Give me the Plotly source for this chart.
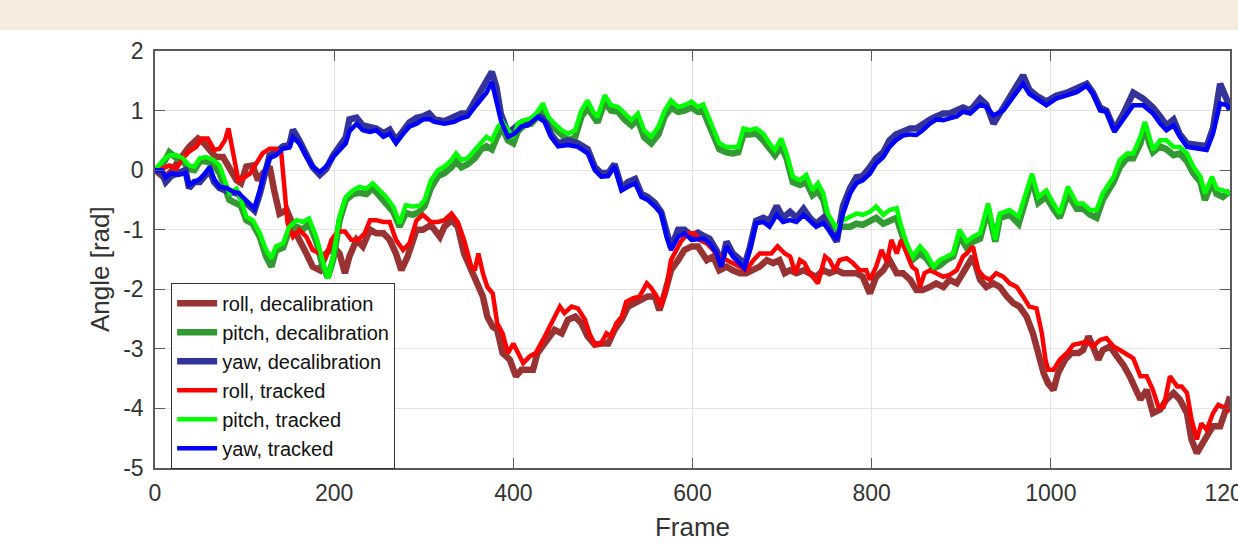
import plotly.graph_objects as go

# ---------------- data ----------------
roll_trk_f = [0, 9, 16, 24, 31, 38, 46, 52, 59, 66, 72, 78, 82, 87, 93, 98, 106, 113, 120, 128, 135, 141, 145, 148, 154, 161, 169, 176, 184, 191, 197, 204, 212, 219, 227, 234, 240, 247, 255, 262, 269, 277, 284, 292, 299, 308, 316, 323, 331, 338, 345, 353, 357, 361, 366, 371, 377, 382, 388, 394, 400, 405, 411, 418, 425, 433, 440, 446, 452, 457, 465, 472, 480, 485, 491, 498, 504, 509, 515, 521, 526, 534, 541, 549, 554, 560, 565, 571, 576, 582, 587, 595, 602, 608, 616, 623, 630, 638, 645, 653, 660, 668, 675, 683, 688, 695, 703, 709, 715, 720, 725, 731, 740, 748, 753, 759, 764, 772, 779, 787, 794, 798, 805, 811, 817, 822, 828, 833, 839, 845, 850, 854, 859, 865, 872, 880, 887, 895, 902, 906, 913, 919, 925, 932, 939, 947, 954, 962, 969, 976, 984, 990, 994, 997, 1003, 1010, 1018, 1025, 1032, 1040, 1047, 1055, 1062, 1070, 1077, 1085, 1092, 1100, 1107, 1114, 1120, 1126, 1133, 1141, 1146, 1152, 1157, 1163, 1168, 1174, 1181, 1187, 1192, 1200]
roll_trk_v = [0, 0.03, 0.08, 0.03, 0.2, 0.31, 0.39, 0.53, 0.53, 0.34, 0.36, 0.5, 0.7, 0.28, -0.17, -0.14, -0.06, 0.11, 0.28, 0.36, 0.36, 0.28, -0.34, -0.89, -1.12, -1.0, -1.12, -1.34, -1.4, -1.45, -1.17, -1.03, -1.03, -1.17, -1.17, -1.06, -0.84, -0.84, -0.87, -0.87, -1.17, -1.34, -1.23, -0.84, -0.75, -0.87, -0.87, -0.84, -0.73, -0.87, -1.17, -1.62, -1.68, -1.4, -1.73, -1.96, -2.07, -2.57, -2.74, -3.07, -2.91, -3.07, -3.24, -3.13, -3.07, -2.85, -2.63, -2.46, -2.29, -2.4, -2.29, -2.32, -2.51, -2.74, -2.93, -2.91, -2.74, -2.79, -2.57, -2.46, -2.21, -2.15, -2.12, -1.9, -1.98, -2.12, -2.29, -1.96, -1.51, -1.34, -1.2, -1.06, -1.06, -1.17, -1.23, -1.34, -1.45, -1.51, -1.56, -1.62, -1.68, -1.51, -1.4, -1.4, -1.4, -1.28, -1.4, -1.45, -1.73, -1.51, -1.56, -1.73, -1.9, -1.45, -1.51, -1.68, -1.51, -1.48, -1.56, -1.68, -1.68, -1.84, -1.62, -1.34, -1.54, -1.17, -1.4, -1.17, -1.4, -1.62, -1.68, -1.96, -1.73, -1.68, -1.73, -1.79, -1.76, -1.68, -1.45, -1.4, -1.28, -1.68, -1.79, -1.84, -1.73, -1.79, -1.9, -1.96, -2.12, -2.29, -2.32, -2.74, -3.18, -3.35, -3.35, -3.18, -3.07, -2.93, -2.91, -2.88, -2.96, -2.85, -2.82, -2.96, -3.02, -3.1, -3.16, -3.46, -3.46, -3.69, -3.97, -3.97, -3.46, -3.63, -3.63, -3.74, -4.18, -4.52, -4.25, -4.36, -4.08, -3.94, -3.97, -4.05]

roll_dec_f = [0, 9, 16, 24, 31, 38, 48, 55, 61, 68, 76, 83, 91, 96, 102, 109, 115, 120, 128, 133, 139, 147, 154, 161, 169, 176, 184, 191, 199, 206, 212, 217, 225, 232, 240, 247, 255, 262, 269, 275, 282, 292, 299, 308, 318, 323, 331, 338, 345, 353, 360, 366, 371, 377, 382, 388, 396, 403, 409, 416, 422, 427, 433, 440, 446, 454, 461, 469, 476, 483, 491, 498, 506, 513, 521, 528, 536, 543, 550, 558, 563, 569, 576, 584, 591, 599, 606, 616, 623, 630, 638, 645, 653, 660, 668, 675, 683, 690, 697, 703, 709, 716, 724, 731, 738, 746, 753, 761, 768, 776, 783, 790, 798, 805, 813, 820, 828, 835, 843, 850, 857, 865, 872, 880, 887, 895, 902, 908, 913, 921, 928, 936, 943, 951, 958, 965, 973, 980, 986, 992, 997, 1003, 1008, 1016, 1023, 1031, 1036, 1042, 1047, 1053, 1058, 1066, 1074, 1081, 1088, 1094, 1100, 1107, 1114, 1122, 1129, 1137, 1144, 1152, 1157, 1163, 1168, 1174, 1181, 1189, 1194, 1200]
roll_dec_v = [0, -0.11, -0.06, 0.11, 0.25, 0.39, 0.53, 0.45, 0.34, 0.22, 0.22, 0.06, -0.17, -0.22, 0.06, 0.08, -0.17, -0.06, 0.06, -0.34, -0.73, -0.67, -0.95, -1.17, -1.4, -1.62, -1.68, -1.4, -1.28, -1.4, -1.73, -1.45, -1.17, -1.28, -1.0, -1.06, -1.06, -1.17, -1.4, -1.68, -1.45, -1.0, -1.0, -0.92, -1.12, -0.95, -0.84, -0.95, -1.4, -1.68, -1.96, -2.12, -2.46, -2.63, -2.68, -3.07, -3.18, -3.46, -3.35, -3.35, -3.35, -3.07, -2.96, -2.79, -2.68, -2.74, -2.51, -2.46, -2.57, -2.79, -2.93, -2.91, -2.91, -2.68, -2.51, -2.29, -2.23, -2.18, -2.12, -2.12, -2.35, -2.07, -1.68, -1.51, -1.34, -1.28, -1.28, -1.51, -1.45, -1.68, -1.62, -1.68, -1.73, -1.73, -1.68, -1.62, -1.51, -1.56, -1.51, -1.73, -1.68, -1.73, -1.68, -1.73, -1.79, -1.68, -1.73, -1.68, -1.73, -1.73, -1.73, -1.79, -2.07, -1.79, -1.68, -1.51, -1.73, -1.73, -1.84, -2.01, -2.01, -1.96, -1.9, -1.96, -1.84, -1.9, -1.73, -1.62, -1.45, -1.84, -1.96, -1.9, -1.96, -2.12, -2.23, -2.29, -2.46, -2.74, -3.13, -3.41, -3.58, -3.69, -3.41, -3.18, -3.07, -3.07, -3.02, -2.79, -2.96, -3.18, -3.02, -2.96, -3.13, -3.27, -3.46, -3.69, -3.85, -3.69, -4.08, -4.02, -3.85, -3.74, -3.85, -4.08, -4.52, -4.75, -4.64, -4.47, -4.3, -4.3, -4.08, -3.8]

pitch_f = [0, 9, 16, 24, 31, 38, 44, 50, 57, 65, 72, 78, 83, 91, 96, 102, 109, 117, 124, 130, 135, 143, 150, 158, 165, 172, 180, 187, 193, 199, 206, 213, 221, 228, 236, 243, 251, 258, 266, 273, 280, 288, 295, 301, 308, 316, 323, 331, 336, 342, 349, 357, 364, 370, 376, 383, 388, 394, 400, 405, 412, 420, 427, 433, 439, 446, 454, 461, 469, 476, 483, 489, 494, 502, 509, 517, 524, 532, 539, 546, 554, 562, 569, 576, 584, 591, 599, 606, 612, 616, 623, 630, 638, 645, 651, 657, 664, 671, 679, 686, 692, 699, 705, 712, 720, 727, 734, 740, 746, 751, 757, 761, 768, 776, 783, 790, 798, 805, 813, 820, 828, 831, 839, 846, 854, 861, 869, 876, 884, 891, 898, 906, 913, 921, 930, 938, 943, 954, 964, 971, 979, 986, 995, 1003, 1010, 1019, 1029, 1036, 1044, 1051, 1058, 1070, 1077, 1085, 1092, 1100, 1105, 1110, 1114, 1122, 1129, 1137, 1144, 1152, 1159, 1167, 1172, 1180, 1185, 1192, 1200]
pitch_trk_v = [0, 0.17, 0.25, 0.25, 0.2, 0.08, 0.06, 0.2, 0.22, 0.17, 0.08, -0.17, -0.39, -0.31, -0.5, -0.78, -0.84, -1.06, -1.34, -1.48, -1.28, -1.23, -0.95, -0.84, -0.87, -0.81, -1.12, -1.51, -1.82, -1.45, -0.78, -0.45, -0.34, -0.28, -0.31, -0.22, -0.34, -0.45, -0.61, -0.89, -0.59, -0.61, -0.6, -0.5, -0.17, 0.0, 0.06, 0.17, 0.28, 0.17, 0.2, 0.34, 0.45, 0.56, 0.5, 0.73, 0.81, 0.67, 0.55, 0.78, 0.84, 0.87, 0.98, 1.12, 0.89, 0.78, 0.67, 0.61, 0.67, 1.0, 1.17, 0.98, 0.89, 1.26, 1.09, 1.06, 0.95, 0.84, 0.95, 0.67, 0.56, 0.73, 1.0, 1.17, 1.06, 1.09, 1.15, 1.06, 1.1, 0.95, 0.67, 0.45, 0.39, 0.39, 0.39, 0.7, 0.67, 0.7, 0.61, 0.45, 0.34, 0.53, 0.28, -0.11, -0.17, -0.08, -0.34, -0.22, -0.39, -0.73, -0.89, -0.98, -0.84, -0.78, -0.73, -0.75, -0.7, -0.61, -0.75, -0.67, -0.64, -0.84, -1.23, -1.45, -1.28, -1.4, -1.62, -1.51, -1.45, -1.4, -1.0, -1.2, -1.12, -1.06, -0.56, -1.17, -0.73, -0.67, -0.78, -0.45, -0.06, -0.45, -0.34, -0.56, -0.73, -0.28, -0.56, -0.56, -0.67, -0.67, -0.39, -0.11, 0.17, 0.28, 0.28, 0.56, 0.81, 0.56, 0.34, 0.5, 0.5, 0.39, 0.39, 0.28, 0.06, -0.11, -0.39, -0.11, -0.31, -0.34, -0.39]
pitch_dec_v = [0, 0.1, 0.3, 0.2, 0.15, 0.02, 0.0, 0.15, 0.15, 0.1, -0.05, -0.3, -0.5, -0.56, -0.6, -0.84, -0.9, -1.12, -1.45, -1.62, -1.35, -1.3, -1.0, -0.95, -1.0, -0.9, -1.2, -1.6, -1.8, -1.5, -0.85, -0.5, -0.4, -0.38, -0.4, -0.3, -0.45, -0.55, -0.7, -0.95, -0.72, -0.75, -0.7, -0.6, -0.3, -0.1, -0.05, 0.05, 0.15, 0.05, 0.1, 0.2, 0.35, 0.4, 0.35, 0.6, 0.7, 0.5, 0.45, 0.65, 0.75, 0.78, 0.88, 1.0, 0.8, 0.7, 0.6, 0.5, 0.55, 0.9, 1.05, 0.9, 0.8, 1.15, 1.0, 0.98, 0.85, 0.75, 0.85, 0.55, 0.45, 0.6, 0.9, 1.05, 0.98, 1.0, 1.05, 0.98, 1.0, 0.85, 0.6, 0.35, 0.3, 0.28, 0.3, 0.6, 0.6, 0.62, 0.5, 0.35, 0.25, 0.4, 0.2, -0.2, -0.25, -0.2, -0.42, -0.35, -0.5, -0.8, -0.95, -0.98, -0.95, -0.95, -0.9, -0.92, -0.85, -0.8, -0.9, -0.85, -0.8, -0.95, -1.3, -1.5, -1.4, -1.48, -1.65, -1.6, -1.5, -1.45, -1.1, -1.3, -1.2, -1.15, -0.65, -1.2, -0.8, -0.75, -0.9, -0.55, -0.15, -0.55, -0.45, -0.65, -0.8, -0.4, -0.65, -0.65, -0.75, -0.8, -0.5, -0.2, 0.05, 0.2, 0.2, 0.45, 0.75, 0.45, 0.3, 0.4, 0.35, 0.25, 0.28, 0.15, -0.05, -0.2, -0.5, -0.2, -0.4, -0.45, -0.35]

yaw_f = [0, 8, 12, 18, 26, 34, 38, 44, 50, 56, 61, 66, 72, 80, 87, 93, 98, 106, 111, 117, 122, 128, 135, 143, 150, 154, 161, 169, 176, 184, 191, 199, 206, 213, 217, 225, 232, 240, 247, 255, 262, 269, 277, 284, 292, 299, 306, 312, 323, 334, 342, 349, 357, 364, 370, 376, 381, 386, 394, 401, 409, 416, 427, 435, 442, 450, 461, 472, 483, 491, 498, 506, 513, 521, 528, 536, 543, 550, 558, 565, 571, 576, 584, 591, 599, 606, 612, 619, 627, 632, 638, 645, 653, 658, 664, 671, 679, 686, 694, 701, 709, 716, 724, 731, 738, 746, 753, 761, 768, 776, 783, 790, 798, 805, 813, 820, 827, 835, 843, 850, 857, 865, 872, 880, 887, 895, 902, 910, 921, 928, 936, 947, 958, 969, 976, 984, 995, 1006, 1018, 1029, 1040, 1047, 1055, 1062, 1071, 1081, 1092, 1103, 1114, 1122, 1129, 1137, 1144, 1152, 1163, 1174, 1181, 1189, 1196, 1200]
yaw_trk_v = [0.0, 0.0, -0.12, -0.05, -0.08, -0.05, -0.25, -0.2, -0.15, -0.05, 0.05, -0.15, -0.28, -0.3, -0.36, -0.38, -0.45, -0.56, -0.64, -0.34, -0.05, 0.2, 0.25, 0.36, 0.38, 0.55, 0.45, 0.22, 0.06, -0.03, 0.06, 0.22, 0.34, 0.45, 0.65, 0.78, 0.67, 0.64, 0.67, 0.56, 0.61, 0.45, 0.61, 0.73, 0.78, 0.85, 0.86, 0.81, 0.78, 0.81, 0.87, 0.9, 1.06, 1.2, 1.3, 1.48, 1.17, 0.84, 0.56, 0.61, 0.73, 0.75, 0.89, 0.81, 0.56, 0.4, 0.42, 0.39, 0.28, 0.0, -0.11, -0.1, 0.06, -0.34, -0.28, -0.22, -0.45, -0.5, -0.61, -0.73, -1.12, -1.34, -1.12, -1.06, -1.17, -1.15, -1.15, -1.23, -1.4, -1.62, -1.28, -1.45, -1.56, -1.65, -1.34, -0.89, -0.87, -0.95, -0.75, -0.87, -0.84, -0.87, -0.75, -0.84, -0.95, -0.89, -1.01, -1.17, -0.73, -0.39, -0.22, -0.17, -0.06, 0.11, 0.22, 0.39, 0.5, 0.58, 0.6, 0.59, 0.67, 0.78, 0.85, 0.84, 0.87, 0.9, 0.98, 0.95, 1.1, 1.06, 0.92, 1.0, 1.23, 1.45, 1.28, 1.2, 1.09, 1.2, 1.26, 1.31, 1.42, 1.28, 1.0, 0.98, 0.64, 0.84, 1.09, 1.09, 0.95, 0.78, 0.67, 0.75, 0.56, 0.39, 0.36, 0.34, 0.61, 1.12, 1.09, 1.03]
yaw_dec_v = [0, -0.05, -0.2, -0.1, -0.05, 0.0, -0.3, -0.2, -0.2, -0.1, 0.0, -0.2, -0.3, -0.35, -0.38, -0.4, -0.5, -0.6, -0.68, -0.4, -0.1, 0.25, 0.3, 0.4, 0.42, 0.68, 0.5, 0.25, 0.05, -0.08, 0.02, 0.25, 0.4, 0.55, 0.85, 0.88, 0.75, 0.72, 0.7, 0.62, 0.68, 0.5, 0.68, 0.8, 0.88, 0.9, 0.95, 0.85, 0.82, 0.9, 0.95, 0.95, 1.15, 1.3, 1.45, 1.65, 1.4, 0.95, 0.62, 0.7, 0.8, 0.82, 0.92, 0.85, 0.6, 0.45, 0.5, 0.45, 0.35, 0.05, -0.05, -0.05, 0.1, -0.3, -0.2, -0.15, -0.4, -0.45, -0.55, -0.7, -1.05, -1.3, -1.0, -1.0, -1.1, -1.05, -1.1, -1.15, -1.35, -1.6, -1.2, -1.4, -1.5, -1.6, -1.3, -0.85, -0.8, -0.85, -0.6, -0.8, -0.7, -0.8, -0.65, -0.8, -0.9, -0.8, -1.0, -1.2, -0.6, -0.3, -0.12, -0.1, 0.05, 0.2, 0.3, 0.5, 0.6, 0.65, 0.7, 0.7, 0.78, 0.85, 0.9, 0.95, 0.95, 1.0, 1.05, 1.0, 1.2, 1.1, 0.78, 1.05, 1.3, 1.59, 1.35, 1.25, 1.15, 1.25, 1.3, 1.38, 1.45, 1.3, 1.05, 1.0, 0.68, 0.95, 1.3, 1.2, 1.05, 0.9, 0.75, 0.85, 0.6, 0.45, 0.42, 0.4, 0.7, 1.45, 1.2, 1.0]

x_ticks = [0, 200, 400, 600, 800, 1000, 1200]
y_ticks = [-5, -4, -3, -2, -1, 0, 1, 2]

# ---------------- figure ----------------
FONT = "Liberation Sans, Arial, Helvetica, sans-serif"
TXT = "#333333"
W, H = 1238, 548
ML, MR, MT, MB = 155, 8, 51, 80
PW, PH = W - ML - MR, H - MT - MB

fig = go.Figure()
series = [
    ("roll, decalibration", roll_dec_f, roll_dec_v, "#993333", 6.5),
    ("pitch, decalibration", pitch_f, pitch_dec_v, "#339933", 6.5),
    ("yaw, decalibration", yaw_f, yaw_dec_v, "#333399", 6.5),
    ("roll, tracked", roll_trk_f, roll_trk_v, "#ff0000", 4.5),
    ("pitch, tracked", pitch_f, pitch_trk_v, "#00ff00", 4.5),
    ("yaw, tracked", yaw_f, yaw_trk_v, "#0000ff", 4.5),
]
for i, (name, xs, ys, col, w) in enumerate(series):
    fig.add_trace(go.Scatter(x=xs, y=ys, mode="lines", name=name,
                             legendgroup=f"g{i}",
                             line=dict(color=col, width=w)))

axis_common = dict(
    showgrid=True, gridcolor="#e3e3e3", gridwidth=1,
    showline=True, linecolor="#5a5a5a", linewidth=1.5, mirror="allticks",
    ticks="inside", ticklen=10, tickwidth=1, tickcolor="#5a5a5a",
    zeroline=False, ticklabeloverflow="allow",
    tickfont=dict(family=FONT, size=23, color=TXT),
)

fig.update_layout(
    width=W, height=H,
    margin=dict(l=ML, r=MR, t=MT, b=MB, autoexpand=False),
    paper_bgcolor="white", plot_bgcolor="white",
    xaxis=dict(range=[0, 1200], tickvals=x_ticks, ticktext=[str(v) for v in x_ticks],
               ticklabelstandoff=4,
               title=dict(text="Frame", font=dict(family=FONT, size=26, color=TXT), standoff=12),
               **axis_common),
    yaxis=dict(range=[-5, 2], tickvals=y_ticks, ticktext=[str(v) for v in y_ticks],
               ticklabelstandoff=5,
               **axis_common),
    legend=dict(x=0.015, y=0.444, xanchor="left", yanchor="top",
                bgcolor="white", bordercolor="#333333", borderwidth=1,
                font=dict(family=FONT, size=20, color="#111111"),
                tracegroupgap=0, itemwidth=40),
    showlegend=True,
)

# y-axis title placed where the reference puts it
fig.add_annotation(text="Angle [rad]", textangle=-90, showarrow=False,
                   xref="paper", yref="paper",
                   x=(100 - ML) / PW, y=(H - MB - 269) / PH,
                   xanchor="center", yanchor="middle",
                   font=dict(family=FONT, size=26, color=TXT))

# beige band at the top of the page
fig.add_shape(type="rect", xref="paper", yref="paper",
              x0=-ML / PW, x1=(W - ML) / PW,
              y0=(H - MB - 30) / PH, y1=(H - MB) / PH,
              fillcolor="rgb(245,236,221)", line=dict(width=0), layer="below")

fig.write_html("out.html")
